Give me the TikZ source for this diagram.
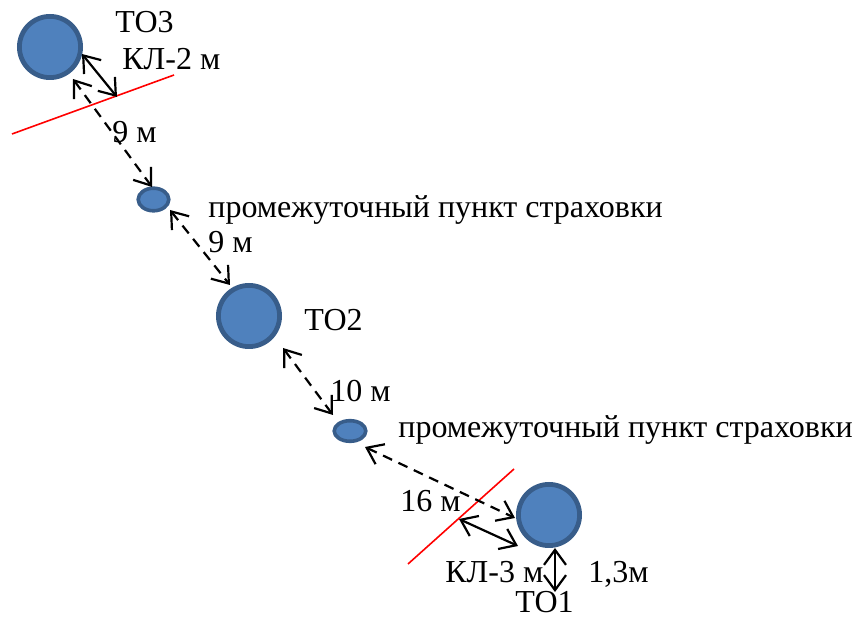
\documentclass[tikz,border=0pt]{standalone}
\usepackage{fontspec}
\setmainfont{Liberation Serif}
\usetikzlibrary{arrows.meta,shapes.geometric}
\definecolor{cfill}{HTML}{4F81BD}
\definecolor{cline}{HTML}{385D8A}
\tikzset{
  bigc/.style={circle,fill=cfill,draw=cline,line width=2.4pt,inner sep=0pt,minimum size=30.6pt},
  smallc/.style={ellipse,fill=cfill,draw=cline,line width=1.8pt,inner sep=0pt},
  lbl/.style={anchor=base west,inner sep=0pt,font=\fontsize{16}{19}\selectfont},
  dimarrow/.style={line width=1.1pt,{Straight Barb[length=7.5pt,width=11pt]}-{Straight Barb[length=7.5pt,width=11pt]}},
  dasharrow/.style={dimarrow,dash pattern=on 5pt off 3.5pt},
  redline/.style={red,line width=0.8pt}
}
\begin{document}
\begin{tikzpicture}[x=0.5pt,y=-0.5pt]
\useasboundingbox (0,0) rectangle (858,624);
% circles
\node[bigc] (c3) at (50,47) {};
\node[smallc,minimum width=15.3pt,minimum height=11.3pt] (p1) at (153.5,199.5) {};
\node[bigc] (c2) at (249,316) {};
\node[smallc,minimum width=15.8pt,minimum height=10.3pt] (p2) at (350,431) {};
\node[bigc] (c1) at (549,515) {};
% red lines
\coordinate (r1a) at (12,134);
\coordinate (r1b) at (174,75);
\coordinate (r2a) at (408,564);
\coordinate (r2b) at (514,469);
\draw[redline] (r1a) -- (r1b);
\draw[redline] (r2a) -- (r2b);
% endpoints
\coordinate (k2a) at (82,54);
\coordinate (k2b) at (117,97);
\coordinate (d1a) at (73,79);
\coordinate (d1b) at (152,187);
\coordinate (d2a) at (170,210);
\coordinate (d2b) at (230,285);
\coordinate (d3a) at (283,348);
\coordinate (d3b) at (333,415);
\coordinate (d4a) at (365,447);
\coordinate (d4b) at (515,518);
\coordinate (k3a) at (459,519);
\coordinate (k3b) at (518,546);
\coordinate (h1a) at (555,548);
\coordinate (h1b) at (555,592);
% arrows
\draw[dimarrow] (k2a) -- (k2b);
\draw[dasharrow] (d1a) -- (d1b);
\draw[dasharrow] (d2a) -- (d2b);
\draw[dasharrow] (d3a) -- (d3b);
\draw[dasharrow] (d4a) -- (d4b);
\draw[dimarrow] (k3a) -- (k3b);
\draw[dimarrow] (h1a) -- (h1b);
% labels
\node[lbl] (t3) at (115,33) {ТО3};
\node[lbl] (kl2) at (122,70) {КЛ-2 м};
\node[lbl] (n9a) at (112,143) {9 м};
\node[lbl] (pp1) at (208,218) {промежуточный пункт страховки};
\node[lbl] (n9b) at (208,253) {9 м};
\node[lbl] (t2) at (304,331) {ТО2};
\node[lbl] (n10) at (330,402) {10 м};
\node[lbl] (pp2) at (398,438) {промежуточный пункт страховки};
\node[lbl] (n16) at (400,512) {16 м};
\node[lbl] (kl3) at (445,583) {КЛ-3 м};
\node[lbl] (n13) at (588,583) {1,3м};
\node[lbl] (t1) at (515,613) {ТО1};
\end{tikzpicture}
\end{document}
